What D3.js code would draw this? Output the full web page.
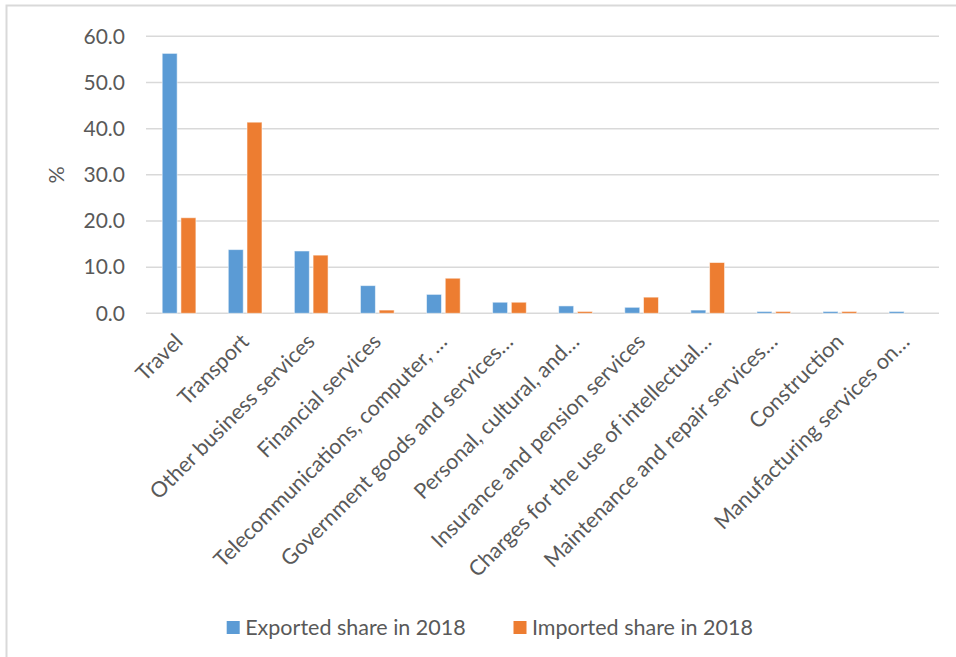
<!DOCTYPE html>
<html>
<head>
<meta charset="utf-8">
<script src="https://cdn.jsdelivr.net/npm/d3@7"></script>
<style>
  html, body { margin: 0; padding: 0; background: #fff; }
  svg { display: block; }
  text { font-family: Lato, "Noto Sans", sans-serif; fill: #595959; }
</style>
</head>
<body>
<svg id="chart" width="956" height="657"></svg>
<script>
// Service categories (labels as shown, long ones truncated)
const categories = [
  "Travel",
  "Transport",
  "Other business services",
  "Financial services",
  "Telecommunications, computer, …",
  "Government goods and services…",
  "Personal, cultural, and…",
  "Insurance and pension services",
  "Charges for the use of intellectual…",
  "Maintenance and repair services…",
  "Construction",
  "Manufacturing services on…"
];

// Share of total services trade, %
const exportedShare = [56.3, 13.8, 13.5, 6.0, 4.1, 2.4, 1.6, 1.3, 0.7, 0.4, 0.4, 0.4];
const importedShare = [20.7, 41.4, 12.6, 0.7, 7.6, 2.4, 0.4, 3.5, 11.0, 0.4, 0.4, 0.0];

const seriesNames = ["Exported share in 2018", "Imported share in 2018"];
const seriesColors = ["#5B9BD5", "#ED7D31"];
const yTicks = [0, 10, 20, 30, 40, 50, 60];

const svg = d3.select("#chart");
const fontSize = "21.5px";

// Outer chart frame (top and left edges)
svg.append("path")
  .attr("d", "M6.5,657 V5.5 H956")
  .attr("fill", "none")
  .attr("stroke", "#d9d9d9")
  .attr("stroke-width", 2);

const plot = { left: 146, right: 939, top: 36.3, bottom: 313.3 };

const x = d3.scaleBand()
  .domain(categories)
  .range([plot.left, plot.right])
  .padding(0);

const bw = x.bandwidth();
const x1 = d3.scaleBand()
  .domain([0, 1])
  .range([bw * 0.245, bw * 0.755])
  .paddingInner(0.2);

const y = d3.scaleLinear()
  .domain([0, 60])
  .range([plot.bottom, plot.top]);

// Horizontal gridlines
svg.append("g")
  .selectAll("line")
  .data(yTicks)
  .join("line")
  .attr("x1", plot.left)
  .attr("x2", plot.right)
  .attr("y1", d => y(d))
  .attr("y2", d => y(d))
  .attr("stroke", "#d9d9d9")
  .attr("stroke-width", 1.5);

// Y axis tick labels
const yAxis = d3.axisLeft(y)
  .tickValues(yTicks)
  .tickFormat(d3.format(".1f"))
  .tickSize(0)
  .tickPadding(21);
const yg = svg.append("g")
  .attr("transform", `translate(${plot.left},0)`)
  .call(yAxis);
yg.select(".domain").remove();
yg.selectAll("text")
  .style("font-size", "21px")
  .style("font-family", "Lato, 'Noto Sans', sans-serif")
  .attr("fill", "#595959");

// Y axis title
svg.append("text")
  .attr("transform", "translate(64,175) rotate(-90)")
  .attr("text-anchor", "middle")
  .style("font-size", fontSize)
  .text("%");

// Bars
const rows = categories.map((c, i) => ({ c, v: [exportedShare[i], importedShare[i]] }));
const groups = svg.append("g")
  .selectAll("g")
  .data(rows)
  .join("g")
  .attr("transform", d => `translate(${x(d.c)},0)`);

groups.selectAll("rect")
  .data(d => d.v.map((v, k) => ({ v, k })))
  .join("rect")
  .filter(d => d.v > 0)
  .attr("x", d => x1(d.k))
  .attr("width", x1.bandwidth())
  .attr("y", d => y(d.v))
  .attr("height", d => y(0) - y(d.v))
  .attr("fill", d => seriesColors[d.k])
  .attr("stroke", "#ffffff")
  .attr("stroke-opacity", 0.55)
  .attr("stroke-width", 1);

// Category labels, rotated
svg.append("g")
  .selectAll("text")
  .data(categories)
  .join("text")
  .attr("transform", d => `translate(${x(d) + bw / 2 + 5},343) rotate(-45)`)
  .attr("text-anchor", "end")
  .style("font-size", fontSize)
  .text(d => d);

// Legend
const legendItems = [
  { name: seriesNames[0], color: seriesColors[0], x: 226.7 },
  { name: seriesNames[1], color: seriesColors[1], x: 513.5 }
];
const lg = svg.append("g")
  .selectAll("g")
  .data(legendItems)
  .join("g")
  .attr("transform", d => `translate(${d.x},621)`);
lg.append("rect")
  .attr("width", 13)
  .attr("height", 13)
  .attr("fill", d => d.color);
lg.append("text")
  .attr("x", 18.5)
  .attr("y", 14)
  .style("font-size", fontSize)
  .text(d => d.name);
</script>
</body>
</html>
